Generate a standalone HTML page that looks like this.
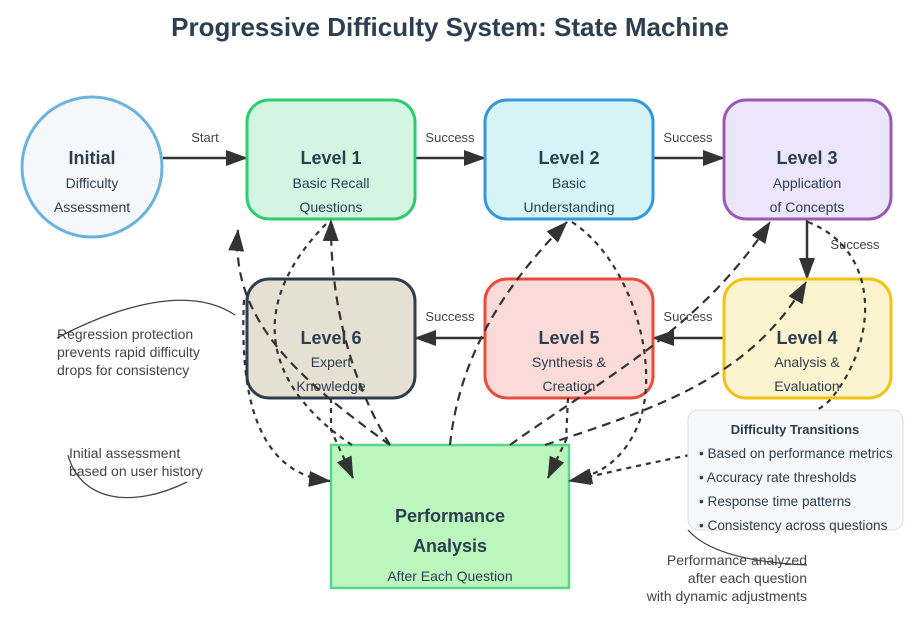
<!DOCTYPE html>
<html><head><meta charset="utf-8"><style>
html,body{margin:0;padding:0;background:#fff;}
svg{display:block;font-family:"Liberation Sans",Arial,sans-serif;}
</style></head><body>
<svg width="924" height="628" viewBox="0 0 924 628" xmlns="http://www.w3.org/2000/svg">
<defs>
<marker id="ahb" markerWidth="22" markerHeight="16" refX="21" refY="8" orient="auto" markerUnits="userSpaceOnUse" viewBox="0 0 22 16"><path d="M0,0 L22,8 L0,16 Z" fill="#333"/></marker>
</defs>
<text x="450" y="36" text-anchor="middle" font-size="26" font-weight="bold" fill="#2c3e50">Progressive Difficulty System: State Machine</text>

<g stroke="#333" stroke-width="2.5" fill="none">
<line x1="163" y1="158" x2="247" y2="158" marker-end="url(#ahb)"/>
<line x1="415" y1="158" x2="485" y2="158" marker-end="url(#ahb)"/>
<line x1="653" y1="158" x2="724" y2="158" marker-end="url(#ahb)"/>
<line x1="807" y1="219" x2="807" y2="279" marker-end="url(#ahb)"/>
<line x1="723" y1="338" x2="653" y2="338" marker-end="url(#ahb)"/>
<line x1="485" y1="338" x2="415" y2="338" marker-end="url(#ahb)"/>
</g>
<g font-size="13" fill="#444" text-anchor="middle">
<text x="205" y="142">Start</text>
<text x="450" y="142">Success</text>
<text x="688" y="142">Success</text>
<text x="855" y="249">Success</text>
<text x="450" y="321">Success</text>
<text x="688" y="321">Success</text>
</g>

<circle cx="92" cy="167" r="70" fill="#f5f7fa" stroke="#6bb3df" stroke-width="3"/>
<rect x="247" y="100" width="168" height="119" rx="22" fill="#d5f5e3" stroke="#2ecc71" stroke-width="3"/>
<rect x="485" y="100" width="168" height="119" rx="22" fill="#d6f3f8" stroke="#3498db" stroke-width="3"/>
<rect x="724" y="100" width="167" height="119" rx="22" fill="#ece6fb" stroke="#9b59b6" stroke-width="3"/>
<rect x="724" y="279" width="167" height="119" rx="22" fill="#fcf3cf" stroke="#f1c40f" stroke-width="3"/>
<rect x="485" y="279" width="168" height="119" rx="22" fill="#fadbd8" stroke="#e74c3c" stroke-width="3"/>
<rect x="247" y="279" width="168" height="119" rx="22" fill="#e5e0d1" stroke="#2c3e50" stroke-width="3"/>
<rect x="331" y="445" width="238" height="143" fill="#bbf6bd" stroke="#58d68d" stroke-width="2.5"/>

<g fill="#2c3e50" text-anchor="middle">
<text x="92" y="164" font-size="18" font-weight="bold">Initial</text>
<text x="92" y="188" font-size="14">Difficulty</text>
<text x="92" y="212" font-size="14">Assessment</text>
<text x="331" y="164" font-size="18" font-weight="bold">Level 1</text>
<text x="331" y="188" font-size="14">Basic Recall</text>
<text x="331" y="212" font-size="14">Questions</text>
<text x="569" y="164" font-size="18" font-weight="bold">Level 2</text>
<text x="569" y="188" font-size="14">Basic</text>
<text x="569" y="212" font-size="14">Understanding</text>
<text x="807" y="164" font-size="18" font-weight="bold">Level 3</text>
<text x="807" y="188" font-size="14">Application</text>
<text x="807" y="212" font-size="14">of Concepts</text>
<text x="807" y="344" font-size="18" font-weight="bold">Level 4</text>
<text x="807" y="367" font-size="14">Analysis &amp;</text>
<text x="807" y="391" font-size="14">Evaluation</text>
<text x="569" y="344" font-size="18" font-weight="bold">Level 5</text>
<text x="569" y="367" font-size="14">Synthesis &amp;</text>
<text x="569" y="391" font-size="14">Creation</text>
<text x="331" y="344" font-size="18" font-weight="bold">Level 6</text>
<text x="331" y="367" font-size="14">Expert</text>
<text x="331" y="391" font-size="14">Knowledge</text>
<text x="450" y="522" font-size="18" font-weight="bold">Performance</text>
<text x="450" y="552" font-size="18" font-weight="bold">Analysis</text>
<text x="450" y="581" font-size="14">After Each Question</text>
</g>

<g stroke="#333" stroke-width="2.2" fill="none">
<path d="M390,445 C300,380 230,320 238,230" stroke-dasharray="9,6" marker-end="url(#ahb)"/>
<path d="M352,445 C270,390 240,310 328,222" stroke-dasharray="5,5"/>
<path d="M390,445 C350,380 330,300 331,220" stroke-dasharray="9,6" marker-end="url(#ahb)"/>
<path d="M331,398 L331,430 L353,478" stroke-dasharray="5,5" marker-end="url(#ahb)"/>
<path d="M244,300 C238,420 270,475 330,481" stroke-dasharray="5,5" marker-end="url(#ahb)"/>
<path d="M450,445 C460,350 510,280 567,222" stroke-dasharray="9,6" marker-end="url(#ahb)"/>
<path d="M572,222 C630,260 660,360 640,420 C625,460 600,475 569,481" stroke-dasharray="5,5" marker-end="url(#ahb)"/>
<path d="M568,398 L566,440 L548,478" stroke-dasharray="5,5" marker-end="url(#ahb)"/>
<path d="M510,445 C600,380 700,330 770,222" stroke-dasharray="9,6" marker-end="url(#ahb)"/>
<path d="M545,445 C650,410 750,380 806,282" stroke-dasharray="9,6" marker-end="url(#ahb)"/>
<path d="M808,222 C880,250 880,340 830,400 C800,430 720,440 688,455" stroke-dasharray="5,5"/>
<path d="M690,455 C640,465 610,472 571,481" stroke-dasharray="5,5" marker-end="url(#ahb)"/>
</g>

<rect x="688" y="410" width="215" height="120" rx="10" fill="#f6f8fa" stroke="#dcdfe3" stroke-width="1"/>
<text x="795" y="434" text-anchor="middle" font-size="13" font-weight="bold" fill="#2c3e50">Difficulty Transitions</text>
<g font-size="13.6" fill="#2c3e50">
<text x="699" y="458">• Based on performance metrics</text>
<text x="699" y="482">• Accuracy rate thresholds</text>
<text x="699" y="506">• Response time patterns</text>
<text x="699" y="530">• Consistency across questions</text>
</g>

<g stroke="#444" stroke-width="1.3" fill="none">
<path d="M57,338 C120,305 190,285 235,315"/>
<path d="M68,455 C80,500 130,510 187,482"/>
<path d="M688,530 C710,555 760,563 807,565"/>
</g>
<g font-size="14" fill="#444">
<text x="57" y="339">Regression protection</text>
<text x="57" y="357">prevents rapid difficulty</text>
<text x="57" y="375">drops for consistency</text>
<text x="69" y="458">Initial assessment</text>
<text x="69" y="476">based on user history</text>
</g>
<g font-size="14" fill="#444" text-anchor="end">
<text x="807" y="565">Performance analyzed</text>
<text x="807" y="583">after each question</text>
<text x="807" y="601">with dynamic adjustments</text>
</g>
</svg>
</body></html>
